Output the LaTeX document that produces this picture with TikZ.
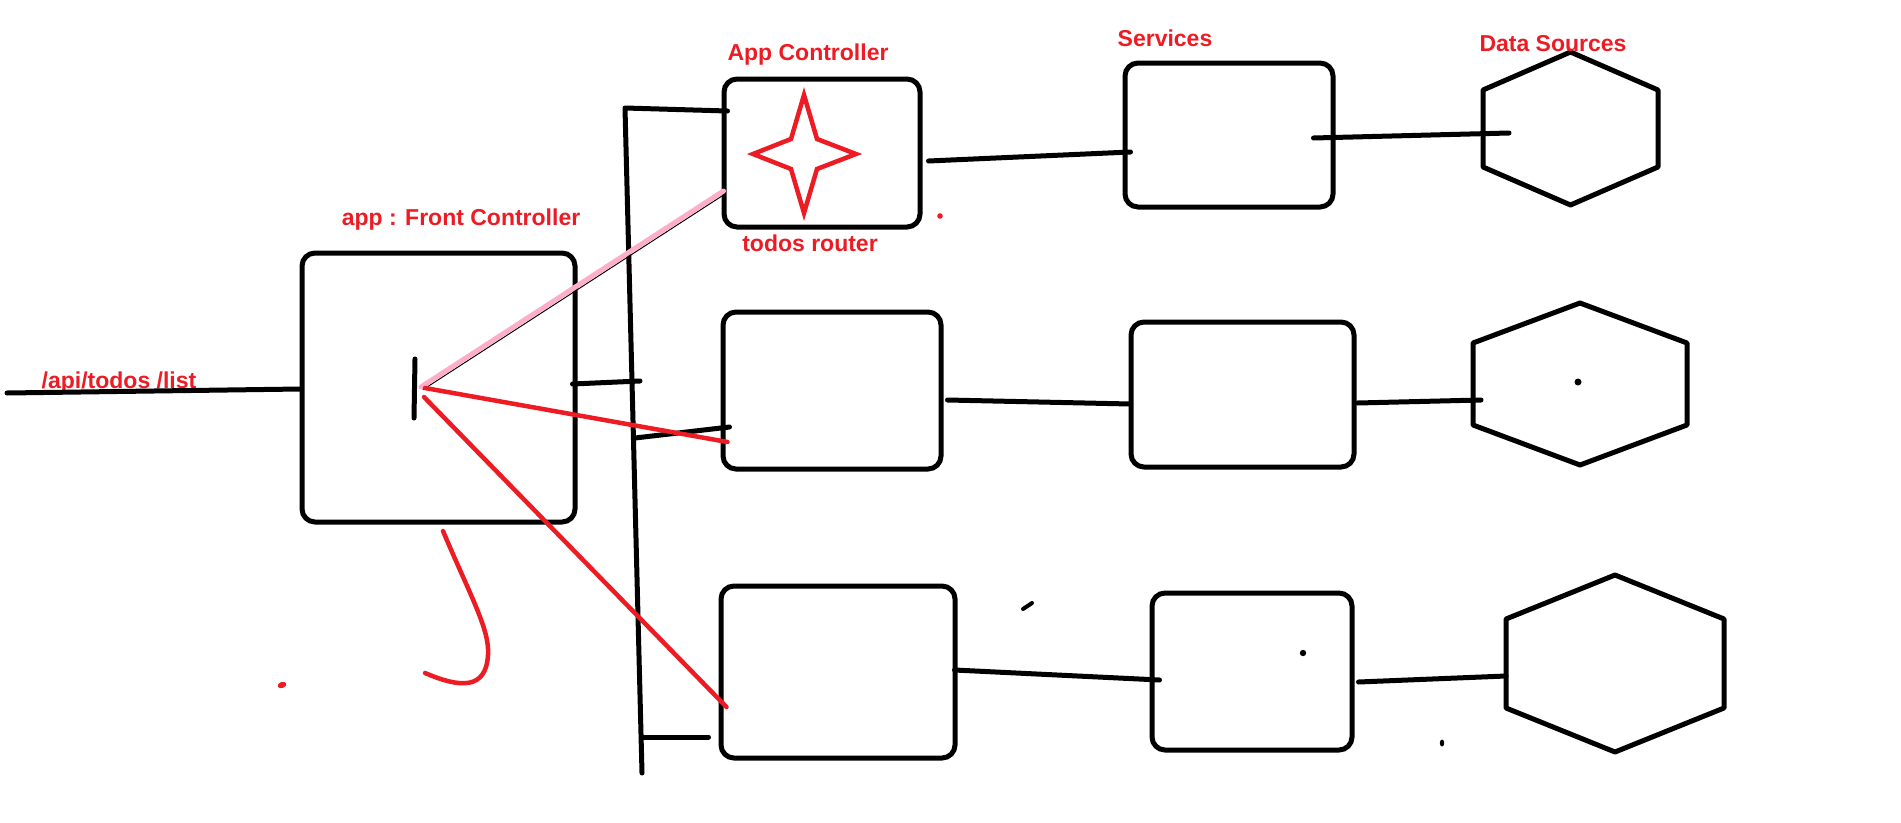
\documentclass[tikz,border=0pt]{standalone}
\usepackage{fontspec}
\setmainfont{Liberation Sans}
\usetikzlibrary{calc}
\definecolor{paintred}{HTML}{ED1C24}
\definecolor{rose}{HTML}{FFAEC9}
\begin{document}
\begin{tikzpicture}[x=1pt,y=-1pt,
  ink/.style={line width=5pt,line cap=round,line join=round},
  box/.style={draw,line width=5pt,rounded corners=13pt,inner sep=0pt},
  redink/.style={paintred,line width=4.5pt,line cap=round,line join=round},
  lbl/.style={text=paintred,font=\fontsize{23}{27}\selectfont\bfseries,inner sep=0pt,anchor=base}]
\fill[white] (0,0) rectangle (1901,822);
\useasboundingbox (0,0) rectangle (1901,822);

% front controller and the three controller / service rows
\node[box,minimum width=273pt,minimum height=269pt] (fc)  at (438.5,387.5) {};
\node[box,minimum width=196pt,minimum height=148pt] (ac1) at (822,153) {};
\node[box,minimum width=218pt,minimum height=157pt] (ac2) at (832,390.5) {};
\node[box,minimum width=234pt,minimum height=172pt] (ac3) at (838,672) {};
\node[box,minimum width=208pt,minimum height=144pt] (sv1) at (1229,135) {};
\node[box,minimum width=223pt,minimum height=145pt] (sv2) at (1242.5,394.5) {};
\node[box,minimum width=200pt,minimum height=157pt] (sv3) at (1252,671.5) {};

% data sources (hexagons)
\coordinate (ds1) at (1570.5,128.5);
\coordinate (ds2) at (1580,384);
\coordinate (ds3) at (1615,663.5);
\newcommand\hexagonat[4]{%
  \draw[ink,shift={(#1)}] (0,-#4) -- (#2,-#3) -- (#2,#3) -- (0,#4) -- (-#2,#3) -- (-#2,-#3) -- cycle;}
\hexagonat{ds1}{87.5}{38.5}{76.5}
\hexagonat{ds2}{107}{41}{81}
\hexagonat{ds3}{109}{44.5}{88.5}

% labels
\node[lbl] (tFC)  at (461,225) {app : Front Controller};
\node[lbl] (tAC)  at (808,60)  {App Controller};
\node[lbl] (tTR)  at (810,251) {todos router};
\node[lbl] (tSV)  at (1165,46) {Services};
\node[lbl] (tDS)  at (1553,51) {Data Sources};
\node[lbl] (tAPI) at (119,388) {/api/todos /list};

% wiring
\coordinate (in) at (7,393);
\coordinate (busTop) at (625,108);
\coordinate (busBot) at (642,773);
\coordinate (j1) at (640,381);
\coordinate (j2) at (635,438);
\coordinate (j3) at (642,737);
\coordinate (hub) at (421,387);

\draw[ink] (in) -- ($(fc.west)+(1,1.5)$);
\draw[ink] ($(fc.east)+(-5,-3.5)$) -- (j1);
\draw[ink] ($(ac1.west)+(6,-42)$) -- (busTop) -- (busBot);
\draw[ink] (j2) -- ($(ac2.west)+(9,36.5)$);
\draw[ink] (j3) -- ($(ac3.west)+(-10,65)$);
\draw[ink] ($(ac1.east)+(6,8)$) -- ($(sv1.west)+(8,17)$);
\draw[ink] ($(sv1.east)+(-22,3)$) -- ($(ds1)+(-61.5,4.5)$);
\draw[ink] ($(ac2.east)+(4,9.5)$) -- ($(sv2.west)+(2,9.5)$);
\draw[ink] ($(sv2.east)+(1,8.5)$) -- ($(ds2)+(-99,16)$);
\draw[ink] ($(ac3.east)+(-3,-2)$) -- ($(sv3.west)+(10,8.5)$);
\draw[ink] ($(sv3.east)+(4,10.5)$) -- ($(ds3)+(-109,12.5)$);

% dispatch mark inside the front controller
\draw[ink] (415,359) -- (414,418);

% routes fanning out from the front controller
\draw[black,line width=1pt] ($(hub)+(1.8,2.8)$) -- ($(ac1.west)+(3.8,40.8)$);
\draw[rose,line width=5pt,line cap=round] (hub) -- ($(ac1.west)+(2,38)$);
\draw[redink] ($(hub)+(4,1)$) -- ($(ac2.west)+(7,51.5)$);
\draw[redink] ($(hub)+(3,10)$) -- ($(ac3.west)+(8,35)$);

% four-point star in the app controller
\draw[redink,line join=miter,shift={($(ac1.center)+(-18,1)$)}]
  (0,-59) -- (13,-15) -- (52,0) -- (13,15) -- (0,59) -- (-13,15) -- (-51,0) -- (-13,-15) -- cycle;

% freehand stroke and specks
\draw[redink] (443,531) .. controls (470,595) and (490,630) .. (488,655)
  .. controls (486,690) and (460,688) .. (425,673);
\fill[paintred,rotate around={20:(282,685)}] (282,685) ellipse (4.5 and 3);
\fill[paintred] (940,216) circle (2.8);
\fill (1578,382) circle (3.5);
\fill (1303,653) circle (3.2);
\fill (1442,743) ellipse (2.2 and 3.5);
\draw[line width=4pt,line cap=round] (1023,609) -- (1032,603);
\end{tikzpicture}
\end{document}
